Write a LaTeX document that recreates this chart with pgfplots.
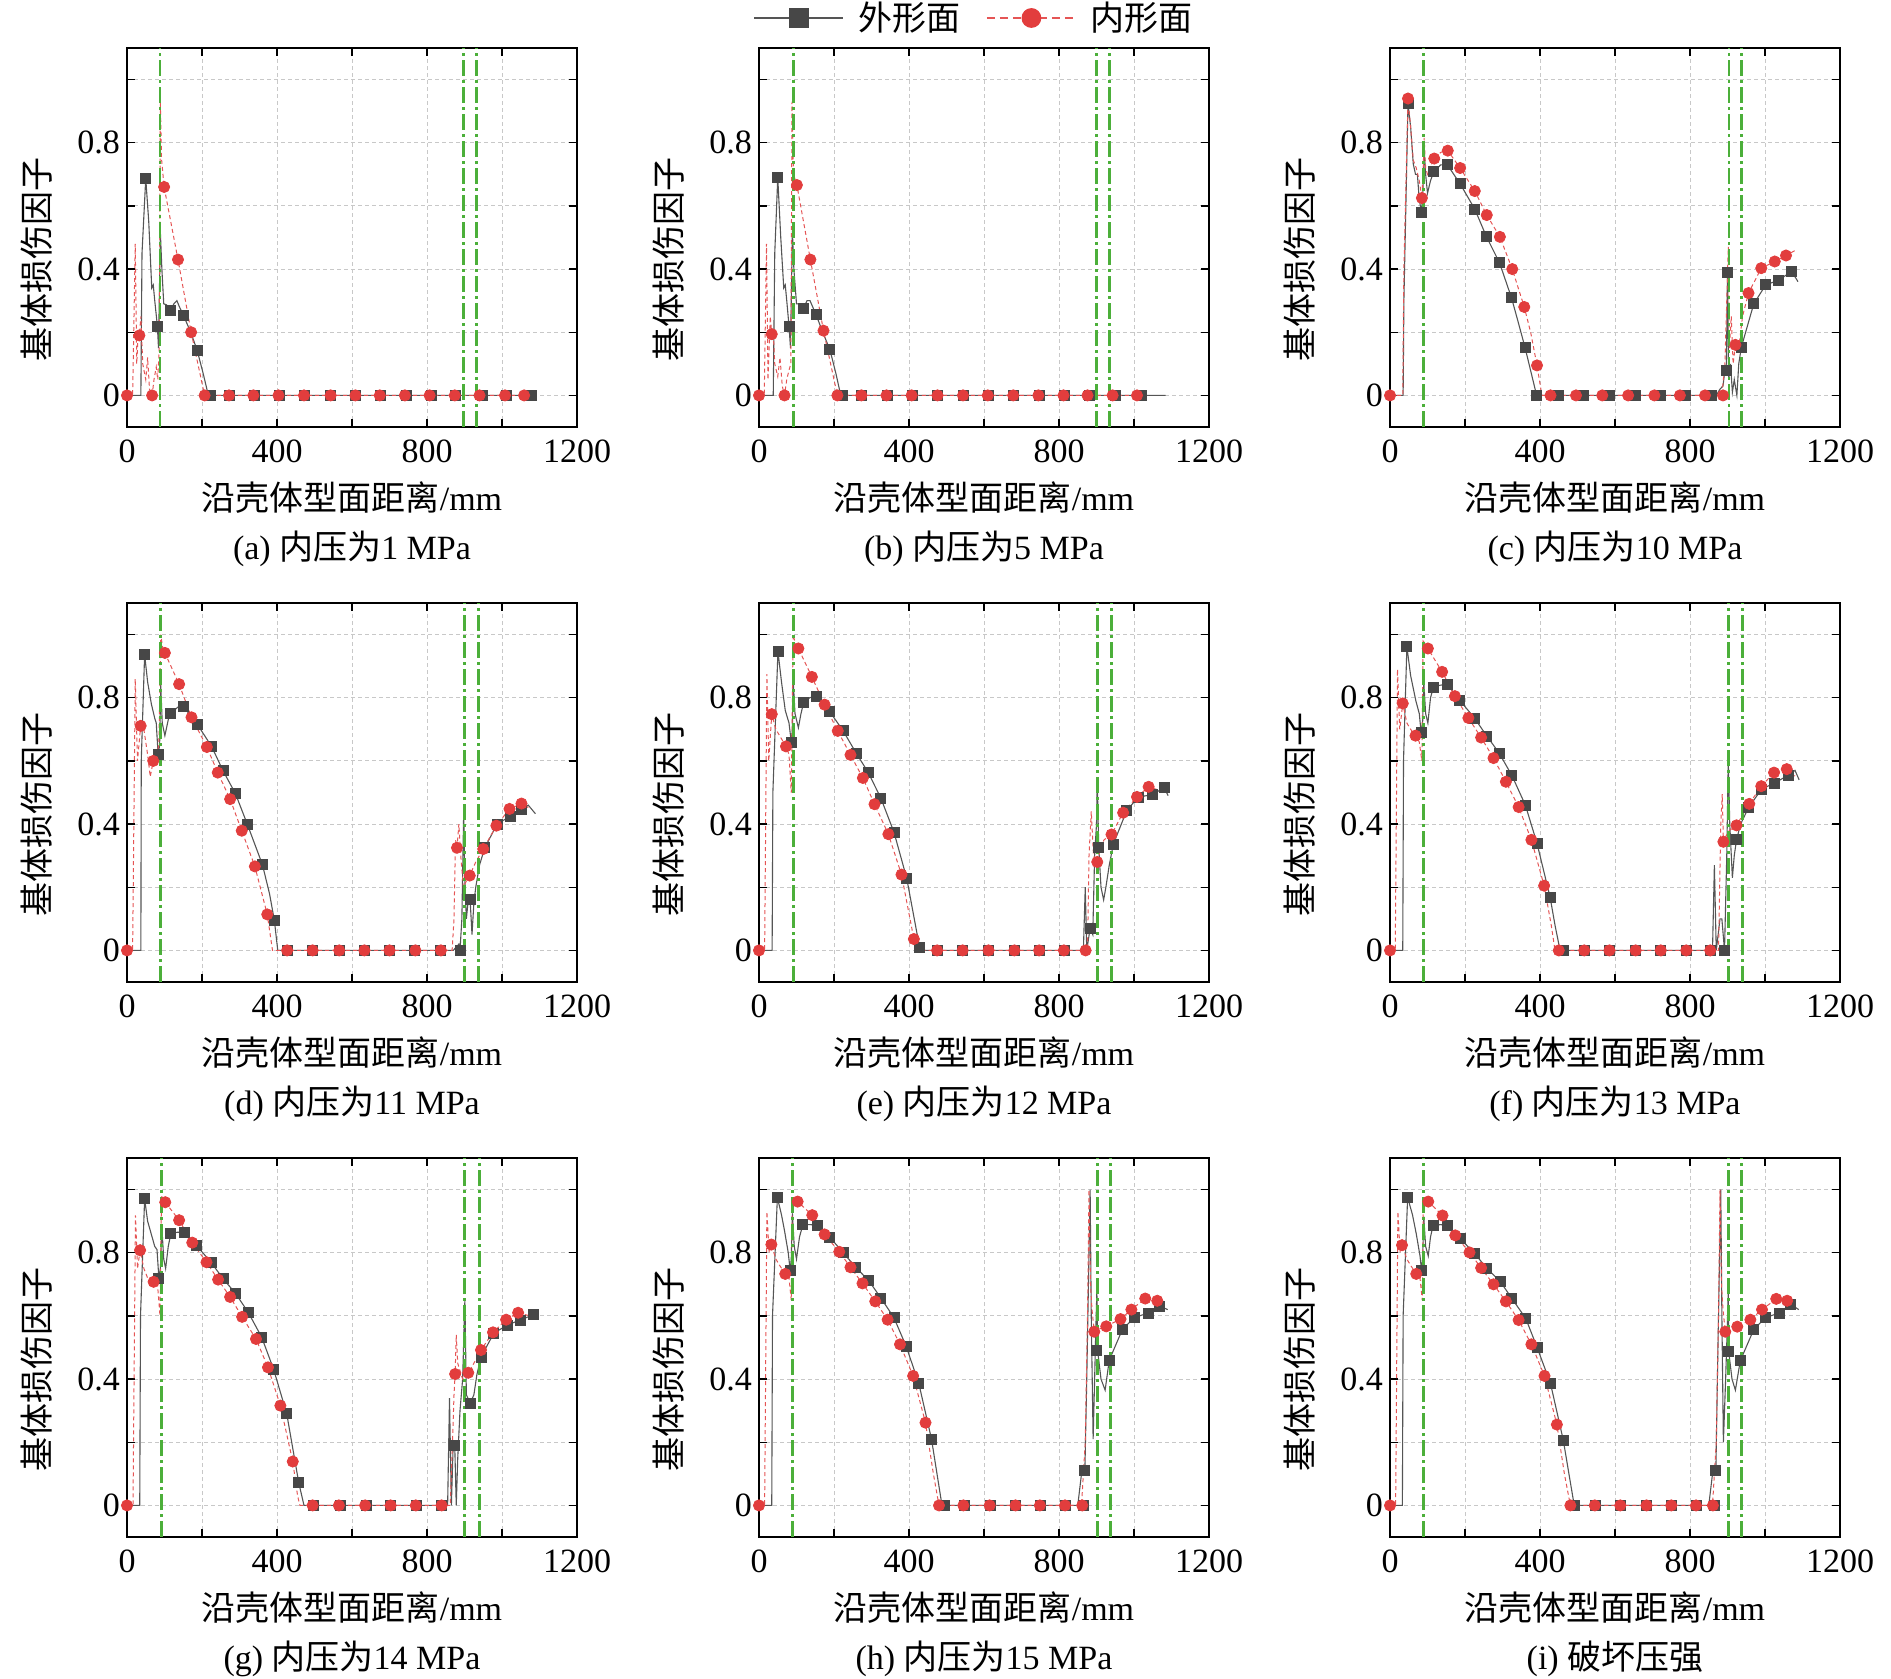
\documentclass[border=0pt]{standalone}
\usepackage{fontspec}
\setmainfont{Liberation Serif}
\newfontfamily\cjk{Noto Sans CJK SC}
\usepackage{pgfplots}
\pgfplotsset{compat=1.18}
\definecolor{blkline}{HTML}{555555}
\definecolor{sqc}{HTML}{474747}
\definecolor{redm}{HTML}{E23D3D}
\definecolor{redl}{HTML}{E55555}
\definecolor{greenc}{HTML}{4CAF3A}
\definecolor{gridc}{HTML}{C8C8C8}
\pgfplotsset{
 panel/.style={
  scale only axis, width=225pt, height=189.5pt, anchor=north west,
  xmin=0,xmax=1200,ymin=-0.1,ymax=1.1,
  xtick={0,400,800,1200}, minor xtick={200,600,1000},
  ytick={0,0.4,0.8}, minor ytick={0.2,0.6,1.0},
  scaled x ticks=false, scaled y ticks=false,
  /pgf/number format/1000 sep={},
  /pgf/number format/assume math mode=true,
  grid=both,
  major grid style={draw=gridc, line width=0.45pt, dash pattern=on 2pt off 1.5pt},
  minor grid style={draw=gridc, line width=0.45pt, dash pattern=on 2pt off 1.5pt},
  tick align=inside, xtick pos=both, ytick pos=both,
  major tick length=4pt, minor tick length=4pt,
  tick style={black, line width=0.7pt},
  axis line style={black, line width=0.9pt},
  font=\fontsize{17}{20}\selectfont,
  xticklabel style={anchor=base, yshift=-17.8pt},
  xlabel style={at={([yshift=-35.5pt]axis description cs:0.5,0)}, anchor=center},
  ylabel style={at={([xshift=-45pt]axis description cs:0,0.443)}, anchor=center},
  title style={at={([yshift=-67pt]axis description cs:0.5,0)}, anchor=center},
  xlabel={{\cjk 沿壳体型面距离}/mm},
  ylabel={\cjk 基体损伤因子},
 },
 bl/.style={blkline, line width=0.55pt, no marks},
 bm/.style={only marks, mark=square*, mark size=2.5pt, mark options={fill=sqc, draw=sqc}},
 rl/.style={redl, line width=0.5pt, dash pattern=on 2pt off 1.5pt, no marks},
 rm/.style={only marks, mark=*, mark size=2.8pt, mark options={fill=redm, draw=redm}},
 gl/.style={greenc, line width=1.4pt, dash pattern=on 8pt off 2pt on 1.5pt off 2pt, no marks},
}
\begin{document}
\begin{tikzpicture}[x=1pt,y=1pt]
\useasboundingbox (0pt,0pt) rectangle (945.5pt,-839.5pt);
% (a)
\begin{axis}[panel, at={(63.5pt,-24pt)}, title={(a) {\cjk 内压为}1 MPa}]
\addplot[bl] coordinates {(0,0) (37,0) (40,0.45) (50,0.687) (58,0.55) (66,0.34) (70,0.35) (74,0.30) (81,0.22) (84,0.15) (89,0.516) (93,0.40) (98,0.29) (105,0.287) (117,0.27) (125,0.29) (133,0.30) (140,0.28) (151,0.252) (170,0.2) (187,0.143) (203,0.07) (217,0) (1078,0)};
\addplot[bm] coordinates {(50,0.687) (81.5,0.218) (117,0.27) (151,0.252) (187,0.143) (222,0) (274,0) (339,0) (407,0) (472,0) (543,0) (609,0) (676,0) (745,0) (812,0) (877,0) (948,0) (1013,0) (1078,0)};
\addplot[rl] coordinates {(0,0) (15,0) (22,0.48) (26,0.1) (30,0.2) (33,0.19) (37,0.25) (42,0.1) (50,0.05) (55,0.12) (60,0.02) (67,0) (72,0.05) (78,0.09) (82,0.05) (86,0.15) (89,0.93) (92,0.75) (99,0.66) (136,0.43) (171,0.20) (207,0) (1070,0)};
\addplot[rm] coordinates {(0,0) (33,0.19) (67,0) (99,0.66) (136,0.43) (171,0.20) (207,0) (272,0) (337,0) (404,0) (472,0) (543,0) (609,0) (674,0) (741,0) (807,0) (874,0) (940,0) (1008,0) (1059,0)};
\addplot[gl] coordinates {(88,-0.1) (88,1.1)};
\addplot[gl] coordinates {(898,-0.1) (898,1.1)};
\addplot[gl] coordinates {(933,-0.1) (933,1.1)};
\end{axis}
% (b)
\begin{axis}[panel, at={(379.5pt,-24pt)}, title={(b) {\cjk 内压为}5 MPa},
  legend columns=2,
  legend style={at={(0.4756,1)}, anchor=center, yshift=15pt, draw=none, fill=none, inner sep=0pt,
    nodes={inner sep=0pt},
    /tikz/every odd column/.append style={column sep=7pt},
    /tikz/every even column/.append style={column sep=13pt}},
  legend image code/.code={\draw[mark repeat=2,mark phase=2,#1] plot coordinates {(0pt,0pt) (22.25pt,0pt) (44.5pt,0pt)};}]
\addlegendimage{blkline, line width=0.9pt, mark=square*, mark size=4.5pt, mark options={fill=sqc, draw=sqc}}
\addlegendentry{\cjk 外形面}
\addlegendimage{redl, line width=0.9pt, dash pattern=on 4pt off 2.5pt, mark=*, mark size=4.5pt, mark options={solid, fill=redm, draw=redm}}
\addlegendentry{\cjk 内形面}
\addplot[bl] coordinates {(0,0) (38,0) (42,0.45) (50,0.69) (58,0.5) (66,0.34) (70,0.35) (74,0.30) (80,0.22) (84,0.15) (89,0.52) (93,0.40) (100,0.29) (107,0.29) (119,0.276) (128,0.30) (136,0.30) (152,0.256) (170,0.2) (189,0.145) (205,0.07) (218,0) (1084,0)};
\addplot[bm] coordinates {(50,0.69) (80,0.22) (119,0.276) (152,0.256) (189,0.145) (222,0) (273,0) (342,0) (410,0) (477,0) (546,0) (612,0) (679,0) (747,0) (814,0) (882,0) (951,0) (1019,0)};
\addplot[rl] coordinates {(0,0) (14,0) (20,0.48) (24,0.05) (30,0.25) (34,0.194) (38,0.2) (42,0.1) (50,0.06) (56,0.12) (62,0.03) (68,0) (74,0.05) (80,0.08) (85,0.1) (88,0.93) (92,0.7) (101,0.666) (137,0.43) (172,0.205) (209,0) (1020,0)};
\addplot[rm] coordinates {(0,0) (34,0.194) (68,0) (101,0.666) (137,0.43) (172,0.205) (209,0) (273,0) (340,0) (407,0) (476,0) (544,0) (610,0) (678,0) (745,0) (812,0) (876,0) (943,0) (1008,0)};
\addplot[gl] coordinates {(91,-0.1) (91,1.1)};
\addplot[gl] coordinates {(901,-0.1) (901,1.1)};
\addplot[gl] coordinates {(935,-0.1) (935,1.1)};
\end{axis}
% (c)
\begin{axis}[panel, at={(695pt,-24pt)}, title={(c) {\cjk 内压为}10 MPa}]
\addplot[bl] coordinates {(0,0) (35,0) (37,0.3) (48,0.924) (55,0.85) (62,0.733) (68,0.70) (73,0.70) (78,0.62) (84,0.58) (88,0.65) (91,0.78) (95,0.70) (100,0.64) (108,0.68) (117,0.708) (135,0.73) (153,0.73) (170,0.70) (187,0.67) (226,0.59) (257,0.503) (292,0.42) (324,0.309) (340,0.24) (360,0.152) (391,0) (870,0) (880,0.02) (888,0.03) (893,0.08) (897,0.1) (900,0.39) (903,0.05) (908,0.1) (913,0.01) (918,0.05) (925,0.0) (930,0.1) (937,0.153) (970,0.29) (1002,0.35) (1037,0.365) (1071,0.393) (1088,0.36)};
\addplot[bm] coordinates {(48,0.924) (84,0.58) (117,0.708) (153,0.73) (187,0.67) (226,0.59) (257,0.503) (292,0.42) (324,0.309) (360,0.152) (391,0) (450,0) (517,0) (584,0) (654,0) (722,0) (789,0) (856,0) (897,0.08) (900,0.39) (937,0.153) (970,0.29) (1002,0.35) (1037,0.365) (1071,0.393)};
\addplot[rl] coordinates {(0,0) (34,0) (37,0.4) (48,0.94) (55,0.85) (62,0.745) (70,0.72) (78,0.68) (85,0.625) (88,0.7) (91,0.815) (95,0.72) (100,0.7) (110,0.73) (118,0.75) (136,0.77) (154,0.775) (187,0.72) (226,0.647) (258,0.571) (293,0.502) (326,0.40) (358,0.28) (375,0.2) (392,0.095) (405,0) (885,0) (893,0.1) (898,0.3) (902,0.47) (905,0.15) (910,0.25) (915,0.1) (921,0.16) (930,0.15) (940,0.25) (956,0.324) (990,0.403) (1026,0.424) (1056,0.443) (1085,0.462)};
\addplot[rm] coordinates {(0,0) (48,0.94) (85,0.625) (118,0.75) (154,0.775) (187,0.72) (226,0.647) (258,0.571) (293,0.502) (326,0.40) (358,0.28) (392,0.095) (428,0) (496,0) (566,0) (635,0) (705,0) (773,0) (840,0) (888,0) (921,0.16) (956,0.324) (990,0.403) (1026,0.424) (1056,0.443)};
\addplot[gl] coordinates {(90,-0.1) (90,1.1)};
\addplot[gl] coordinates {(904,-0.1) (904,1.1)};
\addplot[gl] coordinates {(937,-0.1) (937,1.1)};
\end{axis}
% (d)
\begin{axis}[panel, at={(63.5pt,-301.5pt)}, title={(d) {\cjk 内压为}11 MPa}]
\addplot[bl] coordinates {(0,0) (37,0) (38,0.6) (47,0.937) (55,0.85) (65,0.78) (74,0.735) (78,0.72) (83,0.62) (87,0.65) (90,0.84) (94,0.72) (101,0.68) (110,0.73) (117,0.75) (135,0.77) (150,0.773) (188,0.715) (226,0.645) (256,0.569) (289,0.497) (321,0.399) (361,0.272) (380,0.18) (393,0.095) (402,0) (870,0) (885,0.02) (888,0) (893,0.1) (898,0.45) (900,0.245) (905,0.1) (910,0.16) (915,0.16) (920,0.05) (925,0.15) (930,0.2) (940,0.27) (954,0.325) (987,0.40) (1022,0.425) (1053,0.445) (1070,0.46) (1089,0.433)};
\addplot[bm] coordinates {(47,0.937) (83,0.62) (117,0.75) (150,0.773) (188,0.715) (226,0.645) (256,0.569) (289,0.497) (321,0.399) (361,0.272) (393,0.095) (427,0) (495,0) (566,0) (633,0) (700,0) (767,0) (837,0) (888,0) (915,0.16) (954,0.325) (987,0.40) (1022,0.425) (1053,0.445)};
\addplot[rl] coordinates {(0,0) (15,0) (22,0.86) (28,0.6) (36.5,0.711) (45,0.7) (55,0.62) (62,0.55) (70,0.60) (78,0.62) (85,0.65) (90,1.0) (95,0.96) (101,0.942) (139,0.843) (172,0.738) (213,0.644) (242,0.563) (275,0.479) (306,0.379) (341,0.266) (374,0.114) (388,0) (867,0) (872,0.1) (876,0.35) (880,0.325) (885,0.4) (890,0.3) (897,0.2) (905,0.22) (914,0.237) (930,0.28) (950,0.321) (985,0.395) (1020,0.448) (1052,0.465) (1073,0.45)};
\addplot[rm] coordinates {(0,0) (36.5,0.711) (70,0.60) (101,0.942) (139,0.843) (172,0.738) (213,0.644) (242,0.563) (275,0.479) (306,0.379) (341,0.266) (374,0.114) (427,0) (495,0) (566,0) (633,0) (700,0) (769,0) (837,0) (880,0.325) (914,0.237) (950,0.321) (985,0.395) (1020,0.448) (1052,0.465)};
\addplot[gl] coordinates {(90,-0.1) (90,1.1)};
\addplot[gl] coordinates {(899,-0.1) (899,1.1)};
\addplot[gl] coordinates {(937,-0.1) (937,1.1)};
\end{axis}
% (e)
\begin{axis}[panel, at={(379.5pt,-301.5pt)}, title={(e) {\cjk 内压为}12 MPa}]
\addplot[bl] coordinates {(0,0) (35,0) (37,0.5) (50.5,0.947) (60,0.85) (70,0.76) (80,0.72) (86,0.66) (89,0.7) (91,0.86) (96,0.75) (105,0.705) (112,0.75) (119,0.784) (135,0.80) (154,0.805) (188,0.757) (224,0.696) (259,0.625) (291,0.564) (325,0.482) (360,0.374) (394,0.228) (428,0.011) (435,0) (865,0) (870,0.2) (874,0) (883,0.07) (890,0.05) (895,0.3) (900,0.4) (902,0.535) (906,0.325) (912,0.2) (919,0.16) (925,0.2) (934,0.27) (945,0.337) (981,0.444) (1012,0.486) (1050,0.493) (1080,0.516) (1091,0.49)};
\addplot[bm] coordinates {(50.5,0.947) (86,0.66) (119,0.784) (154,0.805) (188,0.757) (224,0.696) (259,0.625) (291,0.564) (325,0.482) (360,0.374) (394,0.228) (428,0.011) (475,0) (543,0) (612,0) (681,0) (747,0) (815,0) (883,0.07) (906,0.325) (945,0.337) (981,0.444) (1012,0.486) (1050,0.493) (1080,0.516)};
\addplot[rl] coordinates {(0,0) (15,0) (21,0.875) (26,0.6) (34,0.748) (45,0.7) (55,0.68) (72,0.646) (80,0.62) (86,0.5) (91,1.0) (97,0.97) (105,0.956) (141,0.866) (175,0.778) (210,0.695) (244,0.619) (277,0.546) (308,0.463) (345,0.368) (380,0.24) (413,0.036) (425,0) (876,0) (880,0.3) (886,0.44) (892,0.3) (902,0.28) (910,0.32) (920,0.35) (940,0.367) (971,0.436) (1008,0.486) (1039,0.518) (1085,0.50)};
\addplot[rm] coordinates {(0,0) (34,0.748) (72,0.646) (105,0.956) (141,0.866) (175,0.778) (210,0.695) (244,0.619) (277,0.546) (308,0.463) (345,0.368) (380,0.24) (413,0.036) (475,0) (543,0) (612,0) (681,0) (747,0) (813,0) (871,0) (902,0.28) (940,0.367) (971,0.436) (1008,0.486) (1039,0.518)};
\addplot[gl] coordinates {(92,-0.1) (92,1.1)};
\addplot[gl] coordinates {(902,-0.1) (902,1.1)};
\addplot[gl] coordinates {(940,-0.1) (940,1.1)};
\end{axis}
% (f)
\begin{axis}[panel, at={(695pt,-301.5pt)}, title={(f) {\cjk 内压为}13 MPa}]
\addplot[bl] coordinates {(0,0) (34,0) (36,0.6) (45,0.962) (55,0.87) (69,0.79) (78,0.75) (83,0.69) (87,0.72) (90,0.85) (95,0.75) (101,0.72) (108,0.80) (116,0.834) (135,0.84) (152,0.842) (186,0.792) (225,0.736) (258,0.679) (291,0.625) (325,0.554) (361,0.46) (392,0.339) (427,0.168) (440,0.08) (453,0.003) (460,0) (860,0) (865,0.27) (870,0) (880,0.1) (885,0.1) (892,0) (898,0.3) (902,0.6) (906,0.4) (913,0.23) (918,0.3) (924,0.35) (935,0.4) (956,0.452) (991,0.511) (1026,0.53) (1062,0.555) (1080,0.57) (1091,0.54)};
\addplot[bm] coordinates {(45,0.962) (83,0.69) (116,0.834) (152,0.842) (186,0.792) (225,0.736) (258,0.679) (291,0.625) (325,0.554) (361,0.46) (392,0.339) (427,0.168) (462,0) (518,0) (585,0) (655,0) (722,0) (790,0) (854,0) (892,0) (924,0.35) (956,0.452) (991,0.511) (1026,0.53) (1062,0.555)};
\addplot[rl] coordinates {(0,0) (14,0) (20,0.89) (26,0.7) (34,0.782) (45,0.72) (55,0.7) (68,0.68) (78,0.66) (85,0.6) (88,0.98) (95,0.97) (101,0.956) (139,0.882) (173,0.805) (209,0.736) (243,0.674) (276,0.609) (309,0.534) (343,0.454) (377,0.35) (411,0.205) (430,0.08) (440,0) (876,0) (882,0.4) (886,0.495) (889,0.344) (895,0.36) (905,0.38) (924,0.396) (958,0.464) (990,0.52) (1024,0.563) (1058,0.574) (1080,0.552)};
\addplot[rm] coordinates {(0,0) (34,0.782) (68,0.68) (101,0.956) (139,0.882) (173,0.805) (209,0.736) (243,0.674) (276,0.609) (309,0.534) (343,0.454) (377,0.35) (411,0.205) (450,0) (518,0) (585,0) (655,0) (722,0) (790,0) (854,0) (889,0.344) (924,0.396) (958,0.464) (990,0.52) (1024,0.563) (1058,0.574)};
\addplot[gl] coordinates {(90,-0.1) (90,1.1)};
\addplot[gl] coordinates {(902,-0.1) (902,1.1)};
\addplot[gl] coordinates {(939,-0.1) (939,1.1)};
\end{axis}
% (g)
\begin{axis}[panel, at={(63.5pt,-579pt)}, title={(g) {\cjk 内压为}14 MPa}]
\addplot[bl] coordinates {(0,0) (34,0) (36,0.6) (47,0.971) (55,0.9) (74,0.82) (80,0.81) (85,0.72) (89,0.75) (93,0.88) (98,0.78) (103,0.75) (110,0.82) (117,0.861) (135,0.865) (153,0.864) (186,0.822) (224,0.77) (256,0.718) (289,0.672) (323,0.612) (359,0.533) (391,0.431) (426,0.29) (458,0.072) (472,0) (855,0) (860,0.34) (865,0) (870,0.2) (874,0.19) (878,0) (882,0.15) (888,0.3) (895,0.4) (901,0.65) (905,0.35) (915,0.324) (925,0.35) (933,0.414) (944,0.47) (978,0.545) (1014,0.571) (1048,0.587) (1085,0.604) (1090,0.59)};
\addplot[bm] coordinates {(47,0.971) (85,0.72) (117,0.861) (153,0.864) (186,0.822) (224,0.77) (256,0.718) (289,0.672) (323,0.612) (359,0.533) (391,0.431) (426,0.29) (458,0.072) (498,0) (568,0) (638,0) (703,0) (773,0) (839,0) (874,0.19) (915,0.324) (944,0.47) (978,0.545) (1014,0.571) (1048,0.587) (1085,0.604)};
\addplot[rl] coordinates {(0,0) (16,0) (22.6,0.918) (28,0.75) (35,0.808) (45,0.75) (55,0.72) (71,0.708) (80,0.72) (88,0.6) (92,0.98) (96,0.97) (102,0.96) (139,0.903) (174,0.832) (212,0.77) (243,0.715) (275,0.66) (307,0.597) (344,0.527) (376,0.437) (409,0.316) (442,0.139) (455,0.03) (461,0) (862,0) (868,0.2) (872,0.35) (875,0.416) (878,0.54) (882,0.45) (895,0.4) (910,0.42) (925,0.45) (944,0.492) (976,0.548) (1011,0.588) (1043,0.61) (1075,0.6)};
\addplot[rm] coordinates {(0,0) (35,0.808) (71,0.708) (102,0.96) (139,0.903) (174,0.832) (212,0.77) (243,0.715) (275,0.66) (307,0.597) (344,0.527) (376,0.437) (409,0.316) (442,0.139) (495,0) (565,0) (635,0) (703,0) (770,0) (839,0) (875,0.416) (910,0.42) (944,0.492) (976,0.548) (1011,0.588) (1043,0.61)};
\addplot[gl] coordinates {(92,-0.1) (92,1.1)};
\addplot[gl] coordinates {(901,-0.1) (901,1.1)};
\addplot[gl] coordinates {(939,-0.1) (939,1.1)};
\end{axis}
% (h)
\begin{axis}[panel, at={(379.5pt,-579pt)}, title={(h) {\cjk 内压为}15 MPa}]
\addplot[bl] coordinates {(0,0) (34,0) (36,0.6) (49,0.975) (60,0.92) (68,0.87) (78,0.8) (83,0.745) (86,0.78) (89,0.925) (94,0.82) (100,0.78) (108,0.85) (117,0.889) (135,0.889) (155,0.888) (189,0.849) (224,0.801) (258,0.754) (293,0.711) (325,0.657) (360,0.594) (392,0.505) (426,0.387) (460,0.21) (486,0.015) (490,0) (850,0) (860,0.1) (869,0.11) (874,0.4) (880,0.8) (883,1.0) (886,0.6) (891,0.21) (895,0.4) (898,0.55) (901,0.68) (903,0.49) (912,0.4) (923,0.365) (934,0.46) (969,0.557) (1001,0.595) (1038,0.609) (1069,0.631) (1090,0.62)};
\addplot[bm] coordinates {(49,0.975) (83,0.745) (117,0.889) (155,0.888) (189,0.849) (224,0.801) (258,0.754) (293,0.711) (325,0.657) (360,0.594) (392,0.505) (426,0.387) (460,0.21) (495,0) (548,0) (617,0) (685,0) (751,0) (818,0) (864,0) (869,0.11) (901,0.49) (934,0.46) (969,0.557) (1001,0.595) (1038,0.609) (1069,0.631)};
\addplot[rl] coordinates {(0,0) (15,0) (21,0.93) (27,0.8) (33,0.826) (45,0.78) (55,0.76) (70,0.733) (80,0.72) (86,0.65) (89,0.96) (95,0.965) (103,0.962) (142,0.919) (175,0.858) (214,0.803) (244,0.754) (276,0.703) (310,0.646) (343,0.588) (376,0.51) (411,0.41) (444,0.262) (465,0.1) (480,0) (860,0) (870,0.2) (876,0.6) (880,1.0) (884,0.7) (888,0.62) (894,0.55) (910,0.56) (926,0.567) (964,0.59) (993,0.62) (1030,0.655) (1062,0.648) (1075,0.63)};
\addplot[rm] coordinates {(0,0) (33,0.826) (70,0.733) (103,0.962) (142,0.919) (175,0.858) (214,0.803) (244,0.754) (276,0.703) (310,0.646) (343,0.588) (376,0.51) (411,0.41) (444,0.262) (480,0) (545,0) (615,0) (684,0) (749,0) (816,0) (862,0) (894,0.55) (926,0.567) (964,0.59) (993,0.62) (1030,0.655) (1062,0.648)};
\addplot[gl] coordinates {(90,-0.1) (90,1.1)};
\addplot[gl] coordinates {(902,-0.1) (902,1.1)};
\addplot[gl] coordinates {(937,-0.1) (937,1.1)};
\end{axis}
% (i)
\begin{axis}[panel, at={(695pt,-579pt)}, title={(i) {\cjk 破坏压强}}]
\addplot[bl] coordinates {(0,0) (33,0) (35,0.6) (47,0.975) (60,0.92) (70,0.86) (80,0.79) (84,0.745) (87,0.78) (90,0.914) (95,0.82) (102,0.79) (108,0.85) (115,0.887) (135,0.889) (154,0.887) (187,0.845) (225,0.799) (257,0.752) (294,0.709) (324,0.657) (362,0.592) (392,0.501) (428,0.386) (462,0.207) (490,0.009) (493,0) (850,0) (860,0.1) (869,0.11) (873,0.4) (879,0.8) (882,1.0) (885,0.6) (889,0.2) (895,0.4) (899,0.55) (902,0.68) (903,0.489) (912,0.4) (921,0.365) (934,0.458) (970,0.557) (1001,0.595) (1038,0.609) (1068,0.637) (1090,0.62)};
\addplot[bm] coordinates {(47,0.975) (84,0.745) (115,0.887) (154,0.887) (187,0.845) (225,0.799) (257,0.752) (294,0.709) (324,0.657) (362,0.592) (392,0.501) (428,0.386) (462,0.207) (493,0) (547,0) (614,0) (685,0) (751,0) (818,0) (864,0) (869,0.11) (903,0.489) (934,0.458) (970,0.557) (1001,0.595) (1038,0.609) (1068,0.637)};
\addplot[rl] coordinates {(0,0) (15,0) (21,0.93) (27,0.8) (32,0.824) (45,0.78) (55,0.76) (70,0.733) (80,0.72) (86,0.65) (89,0.96) (95,0.965) (102,0.962) (140,0.918) (174,0.855) (212,0.801) (243,0.752) (276,0.70) (309,0.646) (343,0.587) (377,0.51) (412,0.41) (445,0.256) (465,0.1) (481,0) (860,0) (870,0.2) (876,0.6) (880,1.0) (884,0.7) (888,0.62) (894,0.55) (910,0.56) (926,0.566) (961,0.588) (992,0.62) (1030,0.654) (1059,0.648) (1075,0.63)};
\addplot[rm] coordinates {(0,0) (32,0.824) (70,0.733) (102,0.962) (140,0.918) (174,0.855) (212,0.801) (243,0.752) (276,0.70) (309,0.646) (343,0.587) (377,0.51) (412,0.41) (445,0.256) (481,0) (546,0) (614,0) (684,0) (750,0) (816,0) (861,0) (894,0.55) (926,0.566) (961,0.588) (992,0.62) (1030,0.654) (1059,0.648)};
\addplot[gl] coordinates {(89,-0.1) (89,1.1)};
\addplot[gl] coordinates {(903,-0.1) (903,1.1)};
\addplot[gl] coordinates {(937,-0.1) (937,1.1)};
\end{axis}
\end{tikzpicture}
\end{document}
